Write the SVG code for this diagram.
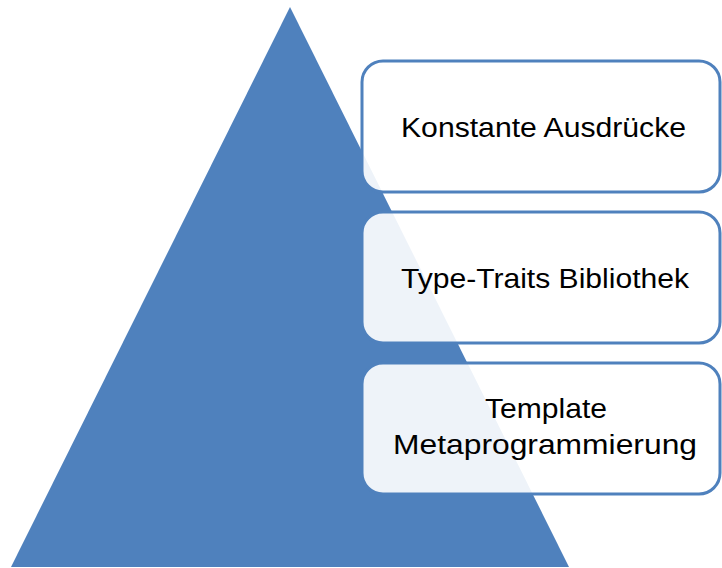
<svg xmlns="http://www.w3.org/2000/svg" width="722" height="568" viewBox="0 0 722 568">
<style>
.box{fill:#ffffff;fill-opacity:0.9;stroke:#4f81bd;stroke-width:3}
.lbl{font-family:"Liberation Sans",Arial,sans-serif;font-size:27.5px;fill:#000000}
</style>
<rect width="722" height="568" fill="#ffffff"/>
<g id="pyramid">
<polygon points="290,7 11,567 569,567" fill="#4f81bd"/>
</g>
<g id="connectors"></g>
<g id="node1">
<rect class="box" x="362" y="61" width="358" height="131" rx="21"/>
<text class="lbl" x="401" y="137" textLength="285" lengthAdjust="spacingAndGlyphs">Konstante Ausdrücke</text>
</g>
<g id="node2">
<rect class="box" x="362" y="212" width="358" height="131" rx="21"/>
<text class="lbl" x="401" y="288" textLength="288" lengthAdjust="spacingAndGlyphs">Type-Traits Bibliothek</text>
</g>
<g id="node3">
<rect class="box" x="362" y="363" width="358" height="131" rx="21"/>
<text class="lbl" x="485" y="418" textLength="122" lengthAdjust="spacingAndGlyphs">Template</text>
<text class="lbl" x="393" y="454" textLength="304" lengthAdjust="spacingAndGlyphs">Metaprogrammierung</text>
</g>
</svg>
